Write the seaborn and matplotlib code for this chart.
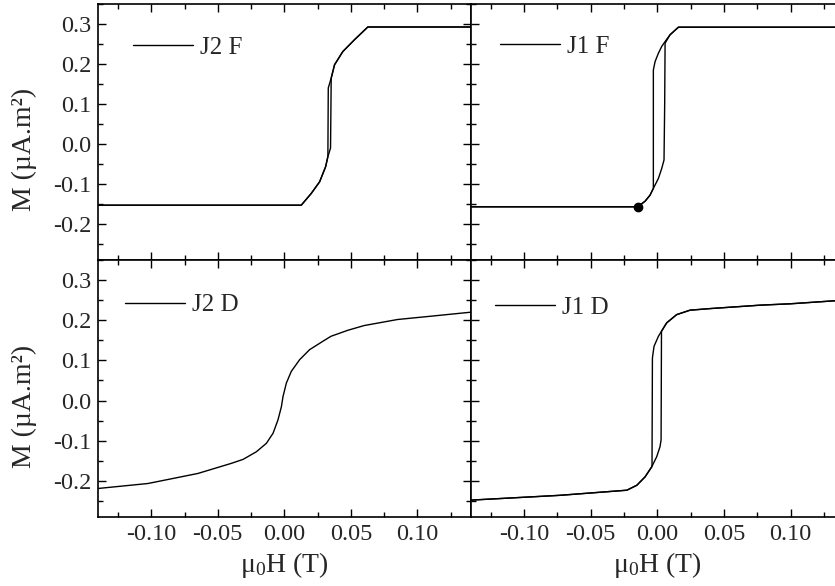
import numpy as np
import pandas as pd
import matplotlib
matplotlib.use("Agg")
import matplotlib.pyplot as plt
from matplotlib.ticker import MultipleLocator, FormatStrFormatter
import seaborn as sns

sns.set_style("ticks")
plt.rcParams["font.family"] = ["Liberation Serif", "DejaVu Serif"]
plt.rcParams["mathtext.fontset"] = "custom"
plt.rcParams["mathtext.rm"] = "Liberation Serif"
plt.rcParams["mathtext.it"] = "Liberation Serif:italic"
plt.rcParams["axes.unicode_minus"] = False

# J2 F : hysteresis loop (ascending branch, then descending branch)
j2f_up_h = [-0.14, 0.0127, 0.0202, 0.0265, 0.031, 0.0327, 0.0347, 0.0352, 0.0377, 0.0439, 0.0527, 0.0627, 0.14]
j2f_up_m = [-0.153, -0.153, -0.1236, -0.0945, -0.0568, -0.0318, -0.010, 0.1647, 0.198, 0.231, 0.2607, 0.2925, 0.2925]
j2f_dn_h = [0.14, 0.0627, 0.0527, 0.0439, 0.0377, 0.0352, 0.0330, 0.0327, 0.031, 0.0265, 0.0202, 0.0127, -0.14]
j2f_dn_m = [0.2925, 0.2925, 0.2607, 0.231, 0.198, 0.1647, 0.140, -0.0318, -0.0568, -0.0945, -0.1236, -0.153, -0.153]

# J1 F
j1f_up_h = [-0.14, -0.0147, -0.0092, -0.0055, -0.003, 0.0008, 0.0033, 0.0050, 0.0055, 0.0058, 0.0095, 0.0158, 0.14]
j1f_up_m = [-0.157, -0.157, -0.143, -0.128, -0.111, -0.086, -0.061, -0.040, 0.100, 0.252, 0.273, 0.292, 0.292]
j1f_dn_h = [0.14, 0.0158, 0.0095, 0.0058, 0.0033, 0.0008, -0.0017, -0.003, -0.003, -0.0055, -0.0092, -0.0147, -0.14]
j1f_dn_m = [0.292, 0.292, 0.273, 0.256, 0.244, 0.227, 0.206, 0.185, -0.111, -0.128, -0.143, -0.157, -0.157]
j1f_dot = (-0.0147, -0.157)

# J2 D : no visible opening
j2d_h = [-0.14, -0.1025, -0.065, -0.040, -0.031, -0.021, -0.0135, -0.0085, -0.0048, -0.0022, -0.001,
         0.0015, 0.0052, 0.0115, 0.019, 0.0289, 0.035, 0.0477, 0.060, 0.085, 0.110, 0.14]
j2d_m = [-0.219, -0.2066, -0.1816, -0.1566, -0.1465, -0.1275, -0.1065, -0.0815, -0.0483, -0.015, 0.010,
         0.0435, 0.0725, 0.1018, 0.1268, 0.1475, 0.160, 0.175, 0.1868, 0.2018, 0.210, 0.220]

# J1 D
j1d_up_h = [-0.14, -0.073, -0.0229, -0.0154, -0.0092, -0.0042, -0.0005, 0.002, 0.0028,
            0.0031, 0.007, 0.0145, 0.0245, 0.0395, 0.077, 0.10, 0.14]
j1d_up_m = [-0.248, -0.236, -0.2233, -0.211, -0.190, -0.165, -0.140, -0.115, -0.098,
            0.1725, 0.1935, 0.214, 0.225, 0.229, 0.2375, 0.241, 0.250]
j1d_dn_h = [0.14, 0.10, 0.077, 0.0395, 0.0245, 0.0145, 0.007, 0.0031, 0.0008, -0.0025, -0.0037,
            -0.0040, -0.0042, -0.0092, -0.0154, -0.0229, -0.073, -0.14]
j1d_dn_m = [0.250, 0.241, 0.2375, 0.229, 0.225, 0.214, 0.1935, 0.1725, 0.160, 0.135, 0.106,
            -0.160, -0.165, -0.190, -0.211, -0.2233, -0.236, -0.248]


def loop_frame(up_h, up_m, dn_h, dn_m):
    return pd.DataFrame({
        "H": up_h + dn_h,
        "M": up_m + dn_m,
        "branch": ["up"] * len(up_h) + ["down"] * len(dn_h),
    })


panels = [
    ("J2 F", loop_frame(j2f_up_h, j2f_up_m, j2f_dn_h, j2f_dn_m)),
    ("J1 F", loop_frame(j1f_up_h, j1f_up_m, j1f_dn_h, j1f_dn_m)),
    ("J2 D", pd.DataFrame({"H": j2d_h, "M": j2d_m, "branch": "up"})),
    ("J1 D", loop_frame(j1d_up_h, j1d_up_m, j1d_dn_h, j1d_dn_m)),
]

W, H = 835, 586
fig = plt.figure(figsize=(W / 100, H / 100), dpi=100)

# axes boxes in pixels: left, top, right, bottom
boxes = [(98, 4, 470.7, 260), (470.7, 4, 844, 260),
         (98, 260, 470.7, 517), (470.7, 260, 844, 517)]
leg_pos = [(0.094, 0.873), (0.078, 0.878), (0.072, 0.868), (0.065, 0.858)]

for i, ((name, df), (l, t, r, b)) in enumerate(zip(panels, boxes)):
    ax = fig.add_axes([l / W, 1 - b / H, (r - l) / W, (b - t) / H])
    for j, (br, sub) in enumerate(df.groupby("branch", sort=False)):
        sns.lineplot(data=sub, x="H", y="M", sort=False, estimator=None,
                     color="black", lw=1.0, ax=ax,
                     label=name if j == 0 else None)
    if name == "J1 F":
        ax.plot(*j1f_dot, "o", color="black", ms=6)

    ax.set_xlim(-0.14, 0.14)
    ax.set_ylim(-0.29, 0.35)
    ax.xaxis.set_major_locator(MultipleLocator(0.05))
    ax.xaxis.set_minor_locator(MultipleLocator(0.025))
    ax.yaxis.set_major_locator(MultipleLocator(0.1))
    ax.yaxis.set_minor_locator(MultipleLocator(0.05))
    ax.xaxis.set_major_formatter(FormatStrFormatter("%.2f"))
    ax.yaxis.set_major_formatter(FormatStrFormatter("%.1f"))
    ax.tick_params(which="both", direction="in", top=True, right=True,
                   width=1.0, labelsize=17.5, pad=5, color="black")
    ax.tick_params(which="major", length=6)
    ax.tick_params(which="minor", length=3.5)
    for s in ax.spines.values():
        s.set_linewidth(1.2)
        s.set_color("black")

    if i % 2 == 0:
        ax.set_ylabel("M (µA.m²)", fontsize=20)
        ax.yaxis.set_label_coords(-0.165, 0.43)
    else:
        ax.set_ylabel("")
        ax.tick_params(labelleft=False)
    if i >= 2:
        ax.set_xlabel(r"μ$_0$H (T)", fontsize=20, labelpad=4)
    else:
        ax.set_xlabel("")
        ax.tick_params(labelbottom=False)

    lx, ly = leg_pos[i]
    ax.legend(loc="upper left", bbox_to_anchor=(lx, ly), frameon=False,
              fontsize=18, handlelength=2.4, handletextpad=0.28,
              borderpad=0, borderaxespad=0)

fig.savefig("out.png", dpi=100)
